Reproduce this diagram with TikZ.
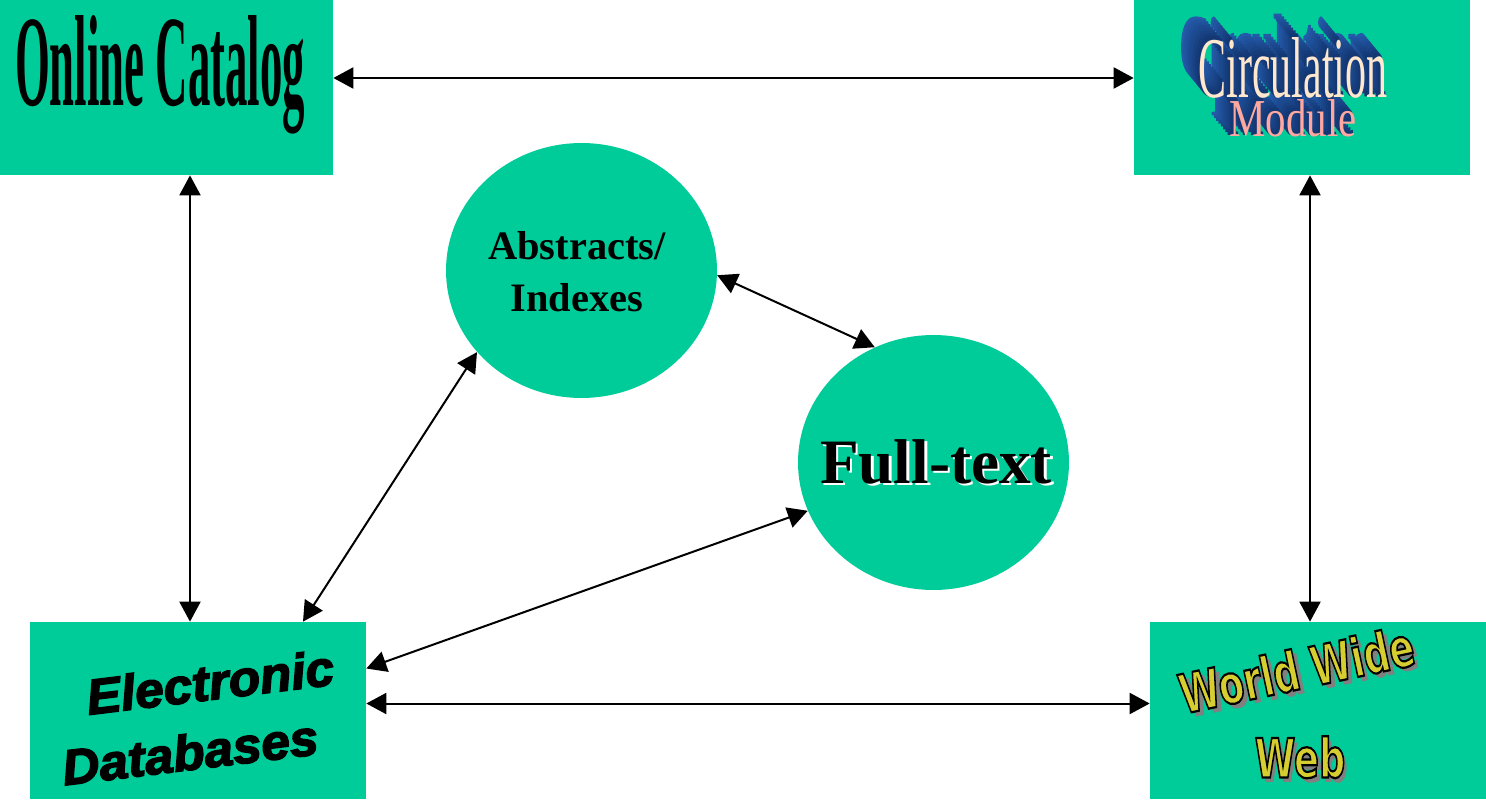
\documentclass[tikz,border=0pt]{standalone}
\usepackage{fontspec}
\setmainfont{Liberation Serif}
\newfontfamily\heavyfont{Liberation Sans}[BoldItalicFeatures={FakeBold=3}]
\newfontfamily\roundfont{DejaVu Sans}
\usetikzlibrary{arrows.meta, shapes.geometric, positioning}

\definecolor{boxgreen}{RGB}{0,204,153}
\definecolor{wwwyellow}{RGB}{214,206,48}
\definecolor{wwwshadow}{RGB}{128,128,128}
\definecolor{circfront}{RGB}{255,168,160}
\definecolor{circtop}{RGB}{255,232,205}
\definecolor{extlight}{RGB}{40,100,185}
\definecolor{extdark}{RGB}{8,30,75}

\newcommand{\wwwtext}[1]{%
\rlap{\hspace{2.4pt}\raisebox{-2.2pt}{\color{wwwshadow}#1}}%
{\color{wwwyellow}\special{pdf:literal direct 2 Tr 0 G 0.9 w}#1\special{pdf:literal direct 0 Tr}}}
\newcommand{\thicktext}[1]{\special{pdf:literal direct 2 Tr 0.35 w}#1\special{pdf:literal direct 0 Tr}}

\tikzset{
box/.style={fill=boxgreen, inner sep=0pt},
blob/.style={ellipse, fill=boxgreen, minimum width=5.42cm, minimum height=5.1cm, inner sep=0pt},
link/.style={{Triangle[length=0.4cm,width=0.42cm]}-{Triangle[length=0.4cm,width=0.42cm]}, line width=0.04cm}
}

\begin{document}
\begin{tikzpicture}[x=0.02cm, y=-0.02cm]
\useasboundingbox (0,0) rectangle (1486,800);

\path (166.5,87.5) node[box, minimum width=6.66cm, minimum height=3.5cm] (cat) {};
\path (1302,87.5) node[box, minimum width=6.72cm, minimum height=3.5cm] (circ) {};
\path (198,710.5) node[box, minimum width=6.72cm, minimum height=3.54cm] (edb) {};
\path (1318,710.5) node[box, minimum width=6.72cm, minimum height=3.54cm] (www) {};

\path (581.5,270.5) node[blob] (abs) {};
\path (933.5,462.5) node[blob] (full) {};

\path (160,75) node (cat-lbl) {\resizebox{5.8cm}{1.8cm}{\bfseries Online Catalog}};

\foreach \k in {8,...,1} {
\pgfmathtruncatemacro\m{30+7*\k}
\path ({1293-2.3*\k},{68-2.8*\k}) node[text=extlight!\m!extdark] (circ-a\k) {\resizebox{3.78cm}{1.2cm}{\thicktext{Circulation}}};
\path ({1293-2.3*\k},{118.5-2.8*\k}) node[text=extlight!\m!extdark] (circ-b\k) {\resizebox{2.54cm}{0.74cm}{\thicktext{Module}}};
}
\path (1293,68) node[text=circtop] (circ-a) {\resizebox{3.78cm}{1.2cm}{Circulation}};
\path (1293,118.5) node[text=circfront] (circ-b) {\resizebox{2.54cm}{0.74cm}{Module}};

\path (210,682) node[rotate=7, font=\heavyfont\bfseries\itshape\fontsize{24}{28}\selectfont] (edb-a) {\scalebox{1.22}[1.18]{Electronic}};
\path (190,752) node[rotate=7, font=\heavyfont\bfseries\itshape\fontsize{24}{28}\selectfont] (edb-b) {\scalebox{1.22}[1.18]{Databases}};

\path (1297,672) node[rotate=12, font=\roundfont\bfseries\fontsize{22}{26}\selectfont] (www-a) {\scalebox{0.95}[1.4]{\wwwtext{World Wide}}};
\path (1300,760) node[font=\roundfont\bfseries\fontsize{22}{26}\selectfont] (www-b) {\scalebox{0.95}[1.4]{\wwwtext{Web}}};

\path (577,272) node[align=center, font=\bfseries\fontsize{23}{29.6}\selectfont] (abs-lbl) {Abstracts/\\Indexes};
\path (936,463) node[font=\bfseries\fontsize{36}{40}\selectfont] (full-lbl) {\makebox[0pt][l]{\hspace{1.5pt}\raisebox{-1.5pt}{\color{white}Full-text}}Full-text};

\draw[link] ([yshift=0.19cm]cat.east) -- ([yshift=0.19cm]cat.east -| circ.west);
\draw[link] ([xshift=0.47cm]cat.south) -- ([xshift=0.47cm]cat.south |- edb.north);
\draw[link] ([xshift=0.16cm]circ.south) -- ([xshift=0.16cm]circ.south |- www.north);
\draw[link] ([yshift=0.14cm]edb.east) -- ([yshift=0.14cm]edb.east -| www.west);
\draw[link] ([xshift=2.1cm]edb.north) -- (abs.218);
\draw[link] ([yshift=0.84cm]edb.east) -- (full.201);
\draw[link] (abs.358) -- (full.117);
\end{tikzpicture}
\end{document}
